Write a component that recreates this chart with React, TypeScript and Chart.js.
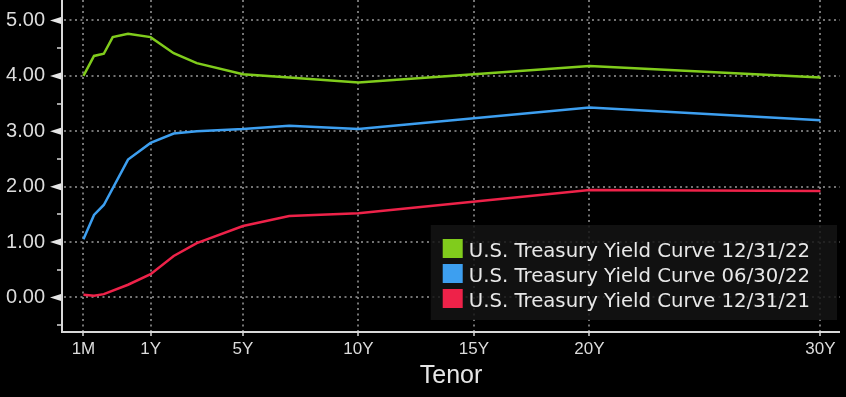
import React, { useEffect, useRef } from 'react';
import { Chart, registerables } from 'chart.js';

Chart.register(...registerables);

// ---- data ----
const tenorLabels = ['1M', '2M', '3M', '4M', '6M', '1Y', '2Y', '3Y', '5Y', '7Y', '10Y', '20Y', '30Y'];
const tenorYears = [1 / 12, 2 / 12, 3 / 12, 4 / 12, 0.5, 1, 2, 3, 5, 7, 10, 20, 30];

const curve221231 = [4.0, 4.36, 4.4, 4.7, 4.76, 4.7, 4.41, 4.23, 4.03, 3.97, 3.88, 4.18, 3.97];
const curve220630 = [1.05, 1.49, 1.67, null, 2.49, 2.79, 2.96, 3.0, 3.04, 3.1, 3.04, 3.43, 3.2];
const curve211231 = [0.05, 0.03, 0.06, null, 0.23, 0.42, 0.75, 0.98, 1.29, 1.47, 1.52, 1.94, 1.92];

const seriesLabels = [
  'U.S. Treasury Yield Curve 12/31/22',
  'U.S. Treasury Yield Curve 06/30/22',
  'U.S. Treasury Yield Curve 12/31/21',
];
const seriesColors = ['#80cc1c', '#3d9ff0', '#ee2249'];

const xTickTenors = [1 / 12, 1, 5, 10, 15, 20, 30];
const xTickLabels = ['1M', '1Y', '5Y', '10Y', '15Y', '20Y', '30Y'];
const yTickValues = [0, 1, 2, 3, 4, 5];
const yMinorValues = [-0.5, 0.5, 1.5, 2.5, 3.5, 4.5];

// Bloomberg-style tenor axis: linear in years from 1Y, stretched below 1Y
const warp = (t: number) => (t >= 1 ? t : 1 - 3.4 * Math.pow(1 - t, 1.8));

const toPoints = (vals: (number | null)[]) =>
  tenorYears.map((t, i) => ({ x: warp(t), y: vals[i] as number | null }));

const AXIS_FONT = "'Liberation Sans', Arial, sans-serif";
const LEGEND_FONT = "'DejaVu Sans', Verdana, sans-serif";

const decorPlugin = {
  id: 'decor',
  beforeDatasetsDraw(chart: any) {
    const { ctx, chartArea: ca, scales } = chart;
    const x = scales.x;
    const y = scales.y;
    ctx.save();
    // dotted grid
    ctx.strokeStyle = '#9a9a9a';
    ctx.lineWidth = 1.5;
    ctx.setLineDash([2, 3.5]);
    yTickValues.forEach((v) => {
      const py = Math.round(y.getPixelForValue(v));
      ctx.beginPath();
      ctx.moveTo(ca.left + 2, py);
      ctx.lineTo(ca.right, py);
      ctx.stroke();
    });
    xTickTenors.forEach((t) => {
      const px = Math.round(x.getPixelForValue(warp(t)));
      ctx.beginPath();
      ctx.moveTo(px, ca.top);
      ctx.lineTo(px, ca.bottom);
      ctx.stroke();
    });
    ctx.setLineDash([]);
    // axis lines
    ctx.strokeStyle = '#d8d8d8';
    ctx.lineWidth = 2;
    ctx.beginPath();
    ctx.moveTo(ca.left, ca.top);
    ctx.lineTo(ca.left, ca.bottom);
    ctx.lineTo(ca.right, ca.bottom);
    ctx.stroke();
    // minor y ticks
    ctx.lineWidth = 1.5;
    yMinorValues.forEach((v) => {
      const py = Math.round(y.getPixelForValue(v));
      ctx.beginPath();
      ctx.moveTo(ca.left - 5, py);
      ctx.lineTo(ca.left, py);
      ctx.stroke();
    });
    // x ticks
    xTickTenors.forEach((t) => {
      const px = Math.round(x.getPixelForValue(warp(t)));
      ctx.beginPath();
      ctx.moveTo(px, ca.bottom);
      ctx.lineTo(px, ca.bottom + 4);
      ctx.stroke();
    });
    // major y markers (triangles)
    ctx.fillStyle = '#e6e6e6';
    yTickValues.forEach((v) => {
      const py = y.getPixelForValue(v);
      ctx.beginPath();
      ctx.moveTo(ca.left - 12, py);
      ctx.lineTo(ca.left - 1, py - 3.5);
      ctx.lineTo(ca.left - 1, py + 3.5);
      ctx.closePath();
      ctx.fill();
    });
    ctx.restore();
  },
  afterDatasetsDraw(chart: any) {
    const { ctx, chartArea: ca } = chart;
    ctx.save();
    ctx.font = `19.7px ${LEGEND_FONT}`;
    const textW = Math.max(...seriesLabels.map((s) => ctx.measureText(s).width));
    const padL = 12;
    const sq = 20;
    const gap = 6;
    const rowH = 25;
    const boxW = padL + sq + gap + textW + 27;
    const boxH = 14 + rowH * seriesLabels.length + 6;
    const boxRight = ca.right - 3;
    const boxBottom = ca.bottom - 12;
    const bx = boxRight - boxW;
    const by = boxBottom - boxH;
    ctx.fillStyle = 'rgba(20,20,20,0.85)';
    ctx.fillRect(bx, by, boxW, boxH);
    seriesLabels.forEach((label, i) => {
      const rowTop = by + 14 + i * rowH;
      ctx.fillStyle = seriesColors[i];
      ctx.fillRect(bx + padL, rowTop, sq, sq - 1);
      ctx.fillStyle = '#e8e8e8';
      ctx.textBaseline = 'alphabetic';
      ctx.textAlign = 'left';
      ctx.fillText(label, bx + padL + sq + gap, rowTop + 18);
    });
    ctx.restore();
  },
};

export default function App() {
  const ref = useRef<HTMLCanvasElement>(null);

  useEffect(() => {
    const canvas = ref.current;
    if (!canvas) return;
    const datasets = [curve221231, curve220630, curve211231].map((vals, i) => ({
      label: seriesLabels[i],
      data: toPoints(vals),
      borderColor: seriesColors[i],
      backgroundColor: seriesColors[i],
      borderWidth: 2.5,
      pointRadius: 0,
      tension: 0,
      spanGaps: true,
      fill: false,
    }));
    const chart = new Chart(canvas, {
      type: 'line',
      data: { datasets },
      options: {
        responsive: false,
        animation: false,
        events: [],
        layout: { padding: { left: 0, right: 6, top: 0, bottom: 0 } },
        plugins: {
          legend: { display: false },
          tooltip: { enabled: false },
        },
        scales: {
          x: {
            type: 'linear',
            min: -2.835,
            max: 30.845,
            grid: { display: false, drawTicks: false },
            border: { display: false },
            afterBuildTicks: (scale: any) => {
              scale.ticks = xTickTenors.map((t) => ({ value: warp(t) }));
            },
            afterFit: (scale: any) => {
              scale.height = 65;
              scale.paddingLeft = 0;
              scale.paddingRight = 0;
            },
            ticks: {
              autoSkip: false,
              maxRotation: 0,
              padding: 7,
              color: '#dcdcdc',
              font: { family: AXIS_FONT, size: 17 },
              callback: (_v: any, i: number) => xTickLabels[i],
            },
            title: {
              display: true,
              text: 'Tenor',
              color: '#e6e6e6',
              font: { family: AXIS_FONT, size: 25 },
              padding: { top: 0, bottom: 6 },
            },
          },
          y: {
            type: 'linear',
            min: -0.623,
            max: 5.37,
            grid: { display: false, drawTicks: false },
            border: { display: false },
            afterBuildTicks: (scale: any) => {
              scale.ticks = yTickValues.map((v) => ({ value: v }));
            },
            afterFit: (scale: any) => {
              scale.width = 62;
              scale.paddingTop = 0;
              scale.paddingBottom = 0;
            },
            ticks: {
              padding: 17,
              color: '#dcdcdc',
              font: { family: AXIS_FONT, size: 20 },
              callback: (v: any) => Number(v).toFixed(2),
            },
          },
        },
      },
      plugins: [decorPlugin],
    } as any);
    return () => chart.destroy();
  }, []);

  return (
    <div
      style={{
        position: 'fixed',
        left: 0,
        top: 0,
        width: 846,
        height: 397,
        background: '#000',
      }}
    >
      <canvas ref={ref} width={846} height={397} style={{ display: 'block', width: 846, height: 397 }} />
    </div>
  );
}
